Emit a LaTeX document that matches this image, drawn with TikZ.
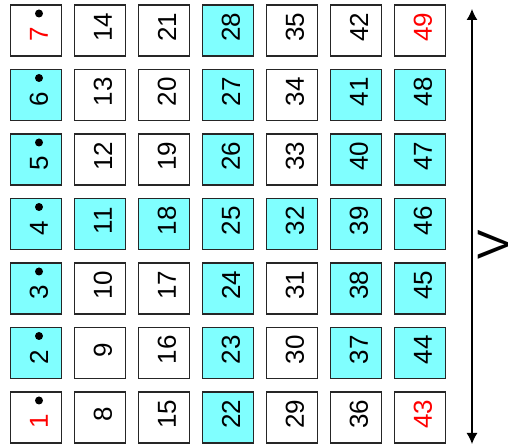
\documentclass[tikz,border=0pt]{standalone}
\usepackage{fontspec}
\setmainfont{Liberation Sans}
\definecolor{cellcyan}{RGB}{128,255,255}
\definecolor{numred}{RGB}{255,0,0}
\usetikzlibrary{arrows.meta}
\tikzset{
  cell/.style={draw=black!85, line width=1.2pt, minimum size=51pt, inner sep=0pt},
  num/.style={rotate=90, inner sep=0pt, font=\fontsize{26}{28}\selectfont},
  dotmark/.style={circle, fill=black, minimum size=8pt, inner sep=0pt},
}

\begin{document}
\begin{tikzpicture}[x=1pt, y=1pt]
  \useasboundingbox (0,0) rectangle (509,446);
  % 7x7 grid, numbered column by column from the bottom
  \foreach \c in {0,...,6} {
    \foreach \r in {0,...,6} {
      \pgfmathtruncatemacro{\n}{7*\c+\r+1}
      \pgfmathtruncatemacro{\iscyan}{(\r==3) || (\c==3) || (((\c==0) || (\c>=5)) && (\r>=1) && (\r<=5))}
      \pgfmathtruncatemacro{\isred}{((\c==0) || (\c==6)) && ((\r==0) || (\r==6))}
      \pgfmathsetmacro{\dy}{\c==0 ? -4 : 3}
      \ifnum\iscyan=1 \def\fillcol{cellcyan}\else\def\fillcol{white}\fi
      \ifnum\isred=1 \def\numcol{numred}\else\def\numcol{black}\fi
      \node[cell, fill=\fillcol] (b\n) at (36+64*\c, 28.5+64.5*\r) {};
      \node[num, text=\numcol] (n\n) at ([xshift=3pt, yshift=\dy pt]b\n.center) {\n};
      \ifnum\c=0
        \node[dotmark] (d\n) at ([xshift=3pt, yshift=17pt]b\n.center) {};
      \fi
    }
  }
  % range arrow
  \coordinate (vtop) at (472,437);
  \coordinate (vbot) at (472,2);
  \draw[{Latex[length=11pt,width=11pt]}-{Latex[length=11pt,width=11pt]}, line width=1.2pt] (vbot) -- (vtop);
  \node[rotate=90, inner sep=0pt, font=\fontsize{44}{46}\selectfont] (vlabel) at (493,201) {V};
\end{tikzpicture}
\end{document}
